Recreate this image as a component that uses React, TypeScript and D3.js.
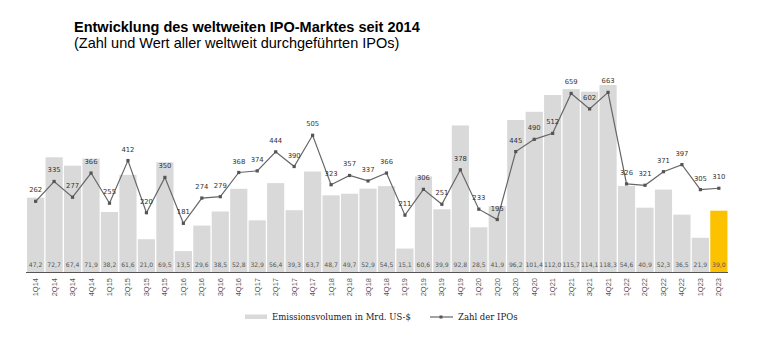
import * as d3 from "d3";

const quarters = [
  "1Q14", "2Q14", "3Q14", "4Q14", "1Q15", "2Q15", "3Q15", "4Q15",
  "1Q16", "2Q16", "3Q16", "4Q16", "1Q17", "2Q17", "3Q17", "4Q17",
  "1Q18", "2Q18", "3Q18", "4Q18", "1Q19", "2Q19", "3Q19", "4Q19",
  "1Q20", "2Q20", "3Q20", "4Q20", "1Q21", "2Q21", "3Q21", "4Q21",
  "1Q22", "2Q22", "3Q22", "4Q22", "1Q23", "2Q23",
];

// Emissionsvolumen in Mrd. US-$
const volume = [
  47.2, 72.7, 67.4, 71.9, 38.2, 61.6, 21.0, 69.5,
  13.5, 29.6, 38.5, 52.8, 32.9, 56.4, 39.3, 63.7,
  48.7, 49.7, 52.9, 54.5, 15.1, 60.6, 39.9, 92.8,
  28.5, 41.9, 96.2, 101.4, 112.0, 115.7, 114.1, 118.3,
  54.6, 40.9, 52.3, 36.5, 21.9, 39.0,
];

// Zahl der IPOs
const ipoCount = [
  262, 335, 277, 366, 255, 412, 220, 350,
  181, 274, 279, 368, 374, 444, 390, 505,
  323, 357, 337, 366, 211, 306, 251, 378,
  233, 195, 445, 490, 512, 659, 602, 663,
  326, 321, 371, 397, 305, 310,
];

const highlight = "2Q23";

const title = "Entwicklung des weltweiten IPO-Marktes seit 2014";
const subtitle = "(Zahl und Wert aller weltweit durchgeführten IPOs)";
const legendBars = "Emissionsvolumen in Mrd. US-$";
const legendLine = "Zahl der IPOs";

export default function App() {
  const width = 771;
  const height = 362;
  const baseY = 272.5;
  const topY = 85;

  const x = d3
    .scaleBand<string>()
    .domain(quarters)
    .range([26.5, 728])
    .paddingInner(0.07)
    .paddingOuter(0.03);

  const yBar = d3.scaleLinear().domain([0, 118.3]).range([baseY, topY]);
  const yLine = d3.scaleLinear().domain([0, 690]).range([baseY, topY]);

  const cx = (q: string) => (x(q) ?? 0) + x.bandwidth() / 2;

  const line = d3
    .line<number>()
    .x((_, i) => cx(quarters[i]))
    .y((d) => yLine(d));

  const fmt = (v: number) => v.toFixed(1).replace(".", ",");
  const sans = "'DejaVu Sans', Verdana, sans-serif";

  return (
    <svg
      width={width}
      height={height}
      style={{ position: "absolute", left: 0, top: 0, background: "#fff" }}
    >
      <text x={74} y={32} fontFamily="'Liberation Sans', Arial, sans-serif" fontWeight="bold" fontSize={14.5} fill="#000">
        {title}
      </text>
      <text x={74} y={47.5} fontFamily="'Liberation Sans', Arial, sans-serif" fontSize={14.5} fill="#000">
        {subtitle}
      </text>

      <g>
        {volume.map((v, i) => (
          <rect
            key={quarters[i]}
            x={x(quarters[i])}
            width={x.bandwidth()}
            y={yBar(v)}
            height={baseY - yBar(v)}
            fill={quarters[i] === highlight ? "#fcc200" : "#d9d9d9"}
          />
        ))}
      </g>

      <g fontFamily={sans} fontSize={6.1} fill="#555" textAnchor="middle">
        {volume.map((v, i) => (
          <text key={quarters[i]} x={cx(quarters[i])} y={266.5}>
            {fmt(v)}
          </text>
        ))}
      </g>

      <line x1={26} x2={728} y1={baseY} y2={baseY} stroke="#555" strokeWidth={1} />

      <g fontFamily="'Liberation Sans', Arial, sans-serif" fontSize={7.5} fill="#555">
        {quarters.map((q) => (
          <text
            key={q}
            transform={`translate(${cx(q) + 2.5},278) rotate(-90)`}
            textAnchor="end"
          >
            {q}
          </text>
        ))}
      </g>

      <path d={line(ipoCount) ?? ""} fill="none" stroke="#666" strokeWidth={1.2} />
      <g fill="#555">
        {ipoCount.map((v, i) => (
          <rect key={quarters[i]} x={cx(quarters[i]) - 1.6} y={yLine(v) - 1.6} width={3.2} height={3.2} />
        ))}
      </g>
      <g fontFamily={sans} fontSize={6.8} fill="#333" textAnchor="middle">
        {ipoCount.map((v, i) => (
          <text key={quarters[i]} x={cx(quarters[i])} y={yLine(v) - 9}>
            {v}
          </text>
        ))}
      </g>

      <g fontFamily="'DejaVu Serif', serif" fontSize={8.5} fill="#222">
        <rect x={245} y={314.5} width={22} height={4.5} fill="#d9d9d9" />
        <text x={272} y={320}>{legendBars}</text>
        <line x1={430} x2={453} y1={317} y2={317} stroke="#666" strokeWidth={1.2} />
        <rect x={439.5} y={315.5} width={3} height={3} fill="#555" />
        <text x={458} y={320}>{legendLine}</text>
      </g>
    </svg>
  );
}
